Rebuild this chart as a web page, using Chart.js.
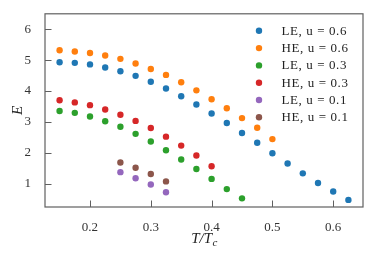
<!DOCTYPE html>
<html>
<head>
<meta charset="utf-8">
<script src="https://cdn.jsdelivr.net/npm/chart.js@4.4.1/dist/chart.umd.min.js"></script>
<style>
  html, body { margin: 0; padding: 0; background: #fff; }
  #wrap { width: 375px; height: 259px; }
</style>
</head>
<body>
<div id="wrap"><canvas id="chart" width="375" height="259"></canvas></div>
<script>
// temperatures T/Tc
var tLE06 = [0.15, 0.175, 0.2, 0.225, 0.25, 0.275, 0.3, 0.325, 0.35, 0.375, 0.4, 0.425, 0.45, 0.475, 0.5, 0.525, 0.55, 0.575, 0.6, 0.625];
var tHE06 = [0.15, 0.175, 0.2, 0.225, 0.25, 0.275, 0.3, 0.325, 0.35, 0.375, 0.4, 0.425, 0.45, 0.475, 0.5];
var tLE03 = [0.15, 0.175, 0.2, 0.225, 0.25, 0.275, 0.3, 0.325, 0.35, 0.375, 0.4, 0.425, 0.45];
var tHE03 = [0.15, 0.175, 0.2, 0.225, 0.25, 0.275, 0.3, 0.325, 0.35, 0.375, 0.4];
var tU01 = [0.25, 0.275, 0.3, 0.325];

// E values
var eLE06 = [4.93, 4.91, 4.86, 4.76, 4.64, 4.49, 4.30, 4.08, 3.83, 3.56, 3.27, 2.96, 2.64, 2.32, 1.98, 1.65, 1.33, 1.02, 0.74, 0.47];
var eHE06 = [5.32, 5.28, 5.23, 5.15, 5.04, 4.89, 4.71, 4.52, 4.28, 4.02, 3.73, 3.44, 3.12, 2.81, 2.44];
var eLE03 = [3.35, 3.29, 3.17, 3.02, 2.84, 2.61, 2.36, 2.08, 1.78, 1.47, 1.15, 0.82, 0.52];
var eHE03 = [3.70, 3.63, 3.54, 3.40, 3.23, 3.03, 2.80, 2.52, 2.23, 1.91, 1.56];
var eLE01 = [1.37, 1.17, 0.97, 0.72];
var eHE01 = [1.68, 1.51, 1.31, 1.07];

var labels = ["LE, u = 0.6", "HE, u = 0.6", "LE, u = 0.3", "HE, u = 0.3", "LE, u = 0.1", "HE, u = 0.1"];
var colors = ["#1f77b4", "#ff7f0e", "#2ca02c", "#d62728", "#9467bd", "#8c564b"];

var xTicks = [0.2, 0.3, 0.4, 0.5, 0.6];
var yTicks = [1, 2, 3, 4, 5, 6];

function pts(xs, ys) {
	var out = [];
	for (var i in xs) {
		out.push({x: xs[i], y: ys[i]});
	}
	return out;
}

var series = [pts(tLE06, eLE06), pts(tHE06, eHE06), pts(tLE03, eLE03), pts(tHE03, eHE03), pts(tU01, eLE01), pts(tU01, eHE01)];

var datasets = [];
for (var i in series) {
	datasets.push({
		label: labels[i],
		data: series[i],
		backgroundColor: colors[i],
		borderWidth: 0,
		pointRadius: 3.2,
		pointHoverRadius: 3.2
	});
}

var serif = "'Liberation Serif', 'DejaVu Serif', serif";

// frame, inward ticks, axis titles and legend
var decor = {
	id: 'decor',
	afterDraw: function(chart) {
		var ctx = chart.ctx;
		var a = chart.chartArea;
		var xs = chart.scales.x, ys = chart.scales.y;
		ctx.save();
		ctx.strokeStyle = '#606060';
		ctx.lineWidth = 1.2;
		ctx.strokeRect(a.left, a.top, a.right - a.left, a.bottom - a.top);

		ctx.lineWidth = 1;
		ctx.beginPath();
		xTicks.forEach(function(v) {
			var px = Math.round(xs.getPixelForValue(v)) + 0.5;
			ctx.moveTo(px, a.bottom);
			ctx.lineTo(px, a.bottom - 6.5);
		});
		yTicks.forEach(function(v) {
			var py = Math.round(ys.getPixelForValue(v)) + 0.5;
			ctx.moveTo(a.left, py);
			ctx.lineTo(a.left + 6.5, py);
		});
		ctx.stroke();

		// y title
		ctx.fillStyle = '#222';
		ctx.save();
		ctx.translate(18, (a.top + a.bottom) / 2);
		ctx.rotate(-Math.PI / 2);
		ctx.font = 'italic 15px ' + serif;
		ctx.textAlign = 'center';
		ctx.textBaseline = 'middle';
		ctx.fillText('E', 0, 0);
		ctx.restore();

		// x title T/Tc
		ctx.font = 'italic 15px ' + serif;
		ctx.textBaseline = 'alphabetic';
		ctx.textAlign = 'left';
		var main = 'T/T';
		var w1 = ctx.measureText(main).width;
		ctx.font = 'italic 11px ' + serif;
		var w2 = ctx.measureText('c').width;
		var cx = (a.left + a.right) / 2;
		var x0 = cx - (w1 + w2) / 2;
		ctx.font = 'italic 15px ' + serif;
		ctx.fillText(main, x0, 243);
		ctx.font = 'italic 11px ' + serif;
		ctx.fillText('c', x0 + w1 + 0.5, 246);

		// legend
		ctx.font = '13px ' + serif;
		ctx.letterSpacing = '0.6px';
		ctx.textBaseline = 'middle';
		for (var k = 0; k < labels.length; k++) {
			var ly = a.top + 17 + k * 17.3;
			ctx.fillStyle = colors[k];
			ctx.beginPath();
			ctx.arc(259, ly, 3.2, 0, Math.PI * 2);
			ctx.fill();
			ctx.fillStyle = '#222';
			ctx.fillText(labels[k], 281.5, ly + 0.5);
		}
		ctx.restore();
	}
};

var options = {
	responsive: false,
	animation: false,
	layout: { padding: { top: 12, right: 12, left: 0, bottom: 0 } },
	plugins: {
		legend: { display: false },
		tooltip: { enabled: false }
	},
	scales: {
		x: {
			type: 'linear',
			min: 0.126,
			max: 0.649,
			grid: { display: false },
			border: { display: false },
			ticks: {
				padding: 5,
				color: '#333',
				font: { family: serif, size: 13 },
				callback: function(v) { return v.toFixed(1); }
			},
			afterBuildTicks: function(s) { s.ticks = xTicks.map(function(v) { return {value: v}; }); },
			afterFit: function(s) { s.height = 52; }
		},
		y: {
			type: 'linear',
			min: 0.24,
			max: 6.5,
			grid: { display: false },
			border: { display: false },
			ticks: {
				padding: 6,
				color: '#333',
				font: { family: serif, size: 13 }
			},
			afterBuildTicks: function(s) { s.ticks = yTicks.map(function(v) { return {value: v}; }); },
			afterFit: function(s) { s.width = 45; }
		}
	}
};

var ctx = document.getElementById('chart');
var chart = new Chart(ctx, {
	type: 'scatter',
	data: { datasets: datasets },
	options: options,
	plugins: [decor]
});
</script>
</body>
</html>
